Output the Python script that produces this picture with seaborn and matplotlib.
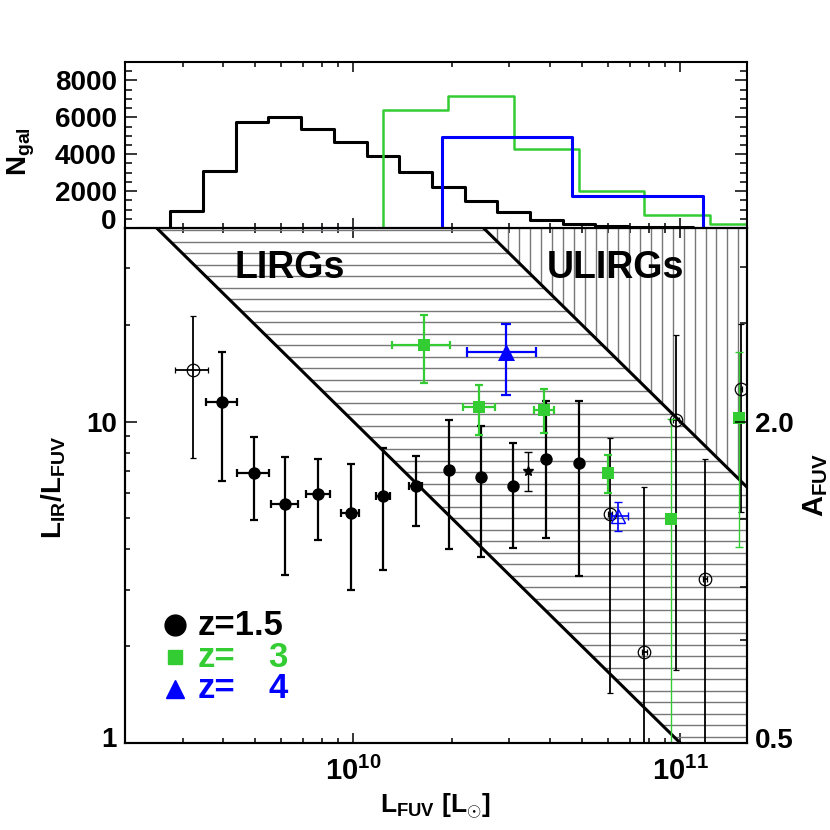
import numpy as np
import pandas as pd
import seaborn as sns
import matplotlib.pyplot as plt
import matplotlib.transforms as mtransforms
from matplotlib.patches import Polygon
from matplotlib.ticker import FixedLocator, MultipleLocator, NullFormatter

# ---- top panel: number of galaxies per bin of log10(L_FUV) ----
black_edges = [9.34, 9.44, 9.54, 9.64, 9.74, 9.84, 9.94, 10.04, 10.14, 10.24, 10.34,
               10.44, 10.54, 10.64, 10.74, 10.84, 10.94, 11.04, 11.14, 11.24]
black_counts = [0, 900, 3080, 5770, 6010, 5380, 4650, 3880, 3060, 2210, 1490,
                860, 440, 220, 100, 60, 40, 20, 0]
green_edges = [9.89, 10.09, 10.29, 10.49, 10.69, 10.89, 11.09, 11.29, 11.49]
green_counts = [0, 6400, 7130, 4290, 1980, 730, 190, 0]
blue_edges = [9.87, 10.27, 10.67, 11.07, 11.47]
blue_counts = [0, 4920, 1710, 0]

# ---- main panel: L_IR/L_FUV against L_FUV ----
# z=1.5, filled circles
z15_lfuv = [3.96e9, 4.95e9, 6.18e9, 7.8e9, 9.8e9, 1.23e10, 1.55e10, 1.96e10,
            2.46e10, 3.07e10, 3.87e10, 4.89e10]
z15_lfuv_lo = [3.55e9, 4.41e9, 5.58e9, 7.16e9, 9.17e9, 1.17e10, 1.48e10, 1.96e10,
               2.46e10, 3.07e10, 3.87e10, 4.89e10]
z15_lfuv_hi = [4.40e9, 5.5e9, 6.79e9, 8.45e9, 1.04e10, 1.29e10, 1.62e10, 1.96e10,
               2.46e10, 3.07e10, 3.87e10, 4.89e10]
z15_ratio = [11.5, 6.92, 5.55, 5.97, 5.19, 5.85, 6.29, 7.05, 6.72, 6.32, 7.62, 7.44]
z15_ratio_lo = [6.55, 4.95, 3.34, 4.28, 3.0, 3.46, 4.74, 4.01, 3.8, 4.04, 4.34, 3.3]
z15_ratio_hi = [16.4, 8.93, 7.78, 7.65, 7.38, 8.28, 7.8, 10.1, 9.67, 8.58, 11.57, 11.57]

# z=1.5, open circles
open_lfuv = [3.23e9, 6.1e10, 7.76e10, 9.7e10, 1.19e11, 1.53e11]
open_lfuv_lo = [2.85e9, 6.0e10, 7.62e10, 9.52e10, 1.17e11, 1.51e11]
open_lfuv_hi = [3.6e9, 6.2e10, 7.9e10, 9.88e10, 1.21e11, 1.55e11]
open_ratio = [14.45, 5.16, 1.92, 10.1, 3.24, 12.67]
open_ratio_lo = [7.71, 1.43, 0.5, 1.69, 0.5, 5.25]
open_ratio_hi = [21.3, 8.9, 6.24, 18.6, 7.65, 20.1]

# stacked point (star)
star_lfuv = [3.41e10]
star_ratio = [7.0]
star_ratio_lo = [6.1]
star_ratio_hi = [8.02]

# z=3, squares
z3_lfuv = [1.64e10, 2.43e10, 3.84e10, 6.03e10]
z3_lfuv_lo = [1.31e10, 2.16e10, 3.57e10, 5.92e10]
z3_lfuv_hi = [1.97e10, 2.71e10, 4.1e10, 6.14e10]
z3_ratio = [17.3, 11.08, 10.9, 6.92]
z3_ratio_lo = [13.2, 9.06, 9.22, 6.0]
z3_ratio_hi = [21.4, 13.0, 12.6, 7.85]
z3_faint_lfuv = [9.37e10, 1.51e11]
z3_faint_ratio = [4.99, 10.27]
z3_faint_ratio_lo = [0.5, 4.06]
z3_faint_ratio_hi = [10.2, 16.4]

# z=4, triangles
z4_lfuv = [2.93e10]
z4_lfuv_lo = [2.23e10]
z4_lfuv_hi = [3.62e10]
z4_ratio = [16.4]
z4_ratio_lo = [12.1]
z4_ratio_hi = [20.1]
z4_open_lfuv = [6.47e10]
z4_open_lfuv_lo = [6.14e10]
z4_open_lfuv_hi = [6.9e10]
z4_open_ratio = [5.07]
z4_open_ratio_lo = [4.58]
z4_open_ratio_hi = [5.6]

LIRG_LIMIT = 1e11
ULIRG_LIMIT = 1e12
XLIM = (2e9, 1.6e11)
YLIM = (1, 40)
GREEN = "#33cc33"
BLUE = "#0000ff"
HATCH = "#777777"

sns.set_theme(style="ticks")
plt.rcParams["font.family"] = ["Liberation Sans", "DejaVu Sans"]
plt.rcParams["font.weight"] = "bold"
plt.rcParams["mathtext.fontset"] = "custom"
plt.rcParams["mathtext.rm"] = "Liberation Sans:bold"
plt.rcParams["mathtext.bf"] = "Liberation Sans:bold"
plt.rcParams["mathtext.it"] = "Liberation Sans:bold"
plt.rcParams["axes.edgecolor"] = "black"
plt.rcParams["axes.linewidth"] = 1.5
plt.rcParams["text.color"] = "black"
plt.rcParams["axes.labelcolor"] = "black"
plt.rcParams["xtick.color"] = "black"
plt.rcParams["ytick.color"] = "black"


def errbars(ax, x, y, ylo, yhi, xlo=None, xhi=None, color="black", lw=1.5, cap=3, **kw):
    x = np.asarray(x)
    y = np.asarray(y)
    xerr = None
    if xlo is not None:
        xerr = [x - np.asarray(xlo), np.asarray(xhi) - x]
    yerr = [y - np.asarray(ylo), np.asarray(yhi) - y]
    ax.errorbar(x, y, xerr=xerr, yerr=yerr, ecolor=color, elinewidth=lw,
                capsize=cap, capthick=lw, zorder=3, **kw)


fig = plt.figure(figsize=(8.3, 8.3), dpi=100)
ax = fig.add_axes([0.1506, 0.1048, 0.7494, 0.6205])
ax_hist = fig.add_axes([0.1506, 0.7253, 0.7494, 0.2])

# ---------------- histogram panel ----------------
for edges, counts, color, lw in [(black_edges, black_counts, "black", 2.2),
                                 (green_edges, green_counts, GREEN, 1.8),
                                 (blue_edges, blue_counts, BLUE, 2.2)]:
    centers = [0.5 * (a + b) for a, b in zip(edges[:-1], edges[1:])]
    df = pd.DataFrame({"logL": centers, "n": counts})
    sns.histplot(data=df, x="logL", weights="n", bins=list(edges), element="step",
                 fill=False, color=color, linewidth=lw, ax=ax_hist)

ax_hist.set_xlim(np.log10(XLIM[0]), np.log10(XLIM[1]))
ax_hist.set_ylim(0, 9000)
minor_L = (np.arange(2, 10)[:, None] * np.array([1e9, 1e10, 1e11])).ravel()
ax_hist.xaxis.set_major_locator(FixedLocator([10, 11]))
ax_hist.xaxis.set_minor_locator(FixedLocator(np.log10(minor_L)))
ax_hist.xaxis.set_major_formatter(NullFormatter())
ax_hist.yaxis.set_major_locator(FixedLocator([0, 2000, 4000, 6000, 8000]))
ax_hist.yaxis.set_minor_locator(MultipleLocator(500))
ax_hist.set_yticklabels(["0", "2000", "4000", "6000", "8000"], fontsize=20)
ax_hist.tick_params(axis="both", which="both", direction="in", top=True, right=True,
                    labelbottom=False, width=1.1)
ax_hist.tick_params(axis="y", which="major", length=8.6, pad=6)
ax_hist.tick_params(axis="y", which="minor", length=5)
ax_hist.tick_params(axis="x", which="major", length=7)
ax_hist.tick_params(axis="x", which="minor", length=3.6)
ax_hist.set_xlabel("")
ax_hist.set_ylabel(r"$\mathbf{N_{gal}}$", fontsize=20, va="center")
ax_hist.yaxis.set_label_coords(-0.166, 0.46)
for sp in ax_hist.spines.values():
    sp.set_zorder(5)
up = mtransforms.ScaledTranslation(0, 0.09, fig.dpi_scale_trans)
lab0 = ax_hist.yaxis.get_major_ticks()[0].label1
lab0.set_transform(lab0.get_transform() + up)

# ---------------- main panel ----------------
ax.set_xscale("log")
ax.set_yscale("log")
ax.set_xlim(*XLIM)
ax.set_ylim(*YLIM)
x0, x1 = XLIM
y0, y1 = YLIM

lirg_patch = Polygon([(LIRG_LIMIT / y1, y1), (ULIRG_LIMIT / y1, y1), (x1, ULIRG_LIMIT / x1),
                      (x1, y0), (LIRG_LIMIT / y0, y0)], closed=True,
                     facecolor="none", edgecolor="none")
ulirg_patch = Polygon([(ULIRG_LIMIT / y1, y1), (x1, y1), (x1, ULIRG_LIMIT / x1)],
                      closed=True, facecolor="none", edgecolor="none")
ax.add_patch(lirg_patch)
ax.add_patch(ulirg_patch)
h_levels = 10 ** np.arange(0.0196, np.log10(y1), 0.0358)
hl = ax.hlines(h_levels, x0, x1, colors=HATCH, lw=1.0, zorder=1)
hl.set_clip_path(lirg_patch)
v_levels = 10 ** np.arange(11.178, np.log10(x0), -0.0336)
vl = ax.vlines(v_levels, y0, y1, colors=HATCH, lw=1.0, zorder=1)
vl.set_clip_path(ulirg_patch)

L_line = np.array([x0, x1])
ax.plot(L_line, LIRG_LIMIT / L_line, color="black", lw=2.2, zorder=2)
ax.plot(L_line, ULIRG_LIMIT / L_line, color="black", lw=2.2, zorder=2)

ax.text(0.264, 0.922, "LIRGs", transform=ax.transAxes, ha="center", va="center",
        fontsize=27, fontweight="bold", zorder=6)
ax.text(0.789, 0.922, "ULIRGs", transform=ax.transAxes, ha="center", va="center",
        fontsize=27, fontweight="bold", zorder=6)

# z=1.5
errbars(ax, z15_lfuv, z15_ratio, z15_ratio_lo, z15_ratio_hi, z15_lfuv_lo, z15_lfuv_hi,
        color="black", lw=1.6, cap=3, fmt="none")
sns.scatterplot(x=z15_lfuv, y=z15_ratio, color="black", marker="o", s=80, linewidth=0,
                ax=ax, zorder=4, legend=False)
errbars(ax, open_lfuv, open_ratio, open_ratio_lo, open_ratio_hi, open_lfuv_lo, open_lfuv_hi,
        color="black", lw=1.3, cap=2.5, fmt="o", mfc="none", mec="black", mew=0.9, ms=9)
errbars(ax, star_lfuv, star_ratio, star_ratio_lo, star_ratio_hi, color="black", lw=1.0,
        cap=3, fmt="*", mfc="black", mec="black", ms=7)

# z=3
errbars(ax, z3_lfuv, z3_ratio, z3_ratio_lo, z3_ratio_hi, z3_lfuv_lo, z3_lfuv_hi,
        color=GREEN, lw=1.6, cap=3, fmt="none")
errbars(ax, z3_faint_lfuv, z3_faint_ratio, z3_faint_ratio_lo, z3_faint_ratio_hi,
        color=GREEN, lw=1.0, cap=3, fmt="none")
sns.scatterplot(x=z3_lfuv + z3_faint_lfuv, y=z3_ratio + z3_faint_ratio, color=GREEN,
                marker="s", s=85, linewidth=0, ax=ax, zorder=4, legend=False)

# z=4
errbars(ax, z4_lfuv, z4_ratio, z4_ratio_lo, z4_ratio_hi, z4_lfuv_lo, z4_lfuv_hi,
        color=BLUE, lw=1.6, cap=3.5, fmt="none")
sns.scatterplot(x=z4_lfuv, y=z4_ratio, color=BLUE, marker="^", s=150, linewidth=0,
                ax=ax, zorder=4, legend=False)
errbars(ax, z4_open_lfuv, z4_open_ratio, z4_open_ratio_lo, z4_open_ratio_hi,
        z4_open_lfuv_lo, z4_open_lfuv_hi, color=BLUE, lw=1.2, cap=3, fmt="^",
        mfc="none", mec=BLUE, mew=1.0, ms=10)

# legend
for (ly, mk, ms, col, num) in [(0.229, "o", 15, "black", "1.5"),
                               (0.167, "s", 10, GREEN, "3"),
                               (0.105, "^", 13, BLUE, "4")]:
    ax.plot([0.081], [ly], marker=mk, ms=ms, color=col, lw=0, transform=ax.transAxes,
            clip_on=False, zorder=6)
    if num == "1.5":
        ax.text(0.116, ly, "z=" + num, transform=ax.transAxes, ha="left", va="center",
                fontsize=25, fontweight="bold", color=col, zorder=6)
        continue
    ax.text(0.116, ly, "z=", transform=ax.transAxes, ha="left", va="center",
            fontsize=25, fontweight="bold", color=col, zorder=6)
    ax.text(0.262, ly, num, transform=ax.transAxes, ha="right", va="center",
            fontsize=25, fontweight="bold", color=col, zorder=6)

# axes ticks
ax.xaxis.set_major_locator(FixedLocator([1e10, 1e11]))
ax.set_xticklabels([r"$\mathbf{10^{10}}$", r"$\mathbf{10^{11}}$"], fontsize=21)
ax.xaxis.set_minor_locator(FixedLocator(minor_L))
ax.xaxis.set_minor_formatter(NullFormatter())
ax.yaxis.set_major_locator(FixedLocator([1, 10]))
ax.set_yticklabels(["1", "10"], fontsize=20)
ax.yaxis.set_minor_locator(FixedLocator([2, 3, 4, 5, 6, 7, 8, 9, 20, 30]))
ax.yaxis.set_minor_formatter(NullFormatter())
ax.tick_params(axis="both", which="both", direction="in", top=True, right=False, width=1.1)
ax.tick_params(axis="x", which="major", length=7, pad=10)
ax.tick_params(axis="x", which="minor", length=3.6)
ax.tick_params(axis="y", which="major", length=8.6, pad=6)
ax.tick_params(axis="y", which="minor", length=3.6)
lab1 = ax.yaxis.get_major_ticks()[0].label1
lab1.set_transform(lab1.get_transform() + mtransforms.ScaledTranslation(0, 0.06, fig.dpi_scale_trans))

ax.set_xlabel(r"$\mathbf{L_{FUV}\ [L_{\odot}]}$", fontsize=19)
ax.xaxis.set_label_coords(0.5, -0.122)
ax.xaxis.label.set_va("center")
ax.set_ylabel(r"$\mathbf{L_{IR}/L_{FUV}}$", fontsize=20, va="center")
ax.yaxis.set_label_coords(-0.114, 0.497)
for sp in ax.spines.values():
    sp.set_zorder(5)

# A_FUV scale on the right
ax_r = ax.twinx()
ax_r.set_yscale("log")
ax_r.set_ylim(*YLIM)
ax_r.yaxis.set_major_locator(FixedLocator([1, 10]))
ax_r.set_yticklabels(["0.5", "2.0"], fontsize=20)
ax_r.yaxis.set_minor_locator(FixedLocator([2.09, 3.06, 4.99, 20.2, 30.2]))
ax_r.yaxis.set_minor_formatter(NullFormatter())
ax_r.tick_params(axis="y", which="both", direction="in", width=1.1)
ax_r.tick_params(axis="y", which="major", length=8.6, pad=6)
ax_r.tick_params(axis="y", which="minor", length=5)
lab2 = ax_r.yaxis.get_major_ticks()[0].label2
lab2.set_transform(lab2.get_transform() + mtransforms.ScaledTranslation(0, 0.05, fig.dpi_scale_trans))
ax_r.set_ylabel(r"$\mathbf{A_{FUV}}$", fontsize=21, va="center", rotation=90)
ax_r.yaxis.set_label_coords(1.11, 0.5)
ax_r.grid(False)

fig.savefig("out.png", dpi=100)
